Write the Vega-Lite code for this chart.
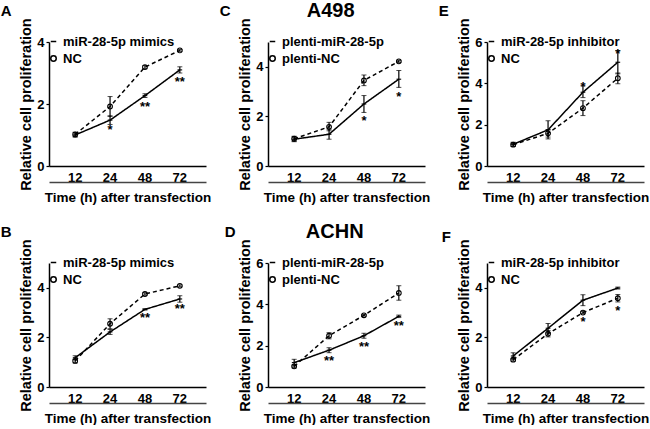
{
  "$schema": "https://vega.github.io/schema/vega-lite/v6.json",
  "padding": 0,
  "background": "white",
  "datasets": {
    "A": [
      {"time": "12", "group": "miR-28-5p mimics", "mean": 1.00, "lo": 0.93, "hi": 1.07},
      {"time": "24", "group": "miR-28-5p mimics", "mean": 1.48, "lo": 1.34, "hi": 1.62},
      {"time": "48", "group": "miR-28-5p mimics", "mean": 2.27, "lo": 2.21, "hi": 2.33},
      {"time": "72", "group": "miR-28-5p mimics", "mean": 3.10, "lo": 3.00, "hi": 3.20},
      {"time": "12", "group": "NC", "mean": 1.02, "lo": 0.95, "hi": 1.09},
      {"time": "24", "group": "NC", "mean": 1.92, "lo": 1.60, "hi": 2.24},
      {"time": "48", "group": "NC", "mean": 3.19, "lo": 3.14, "hi": 3.24},
      {"time": "72", "group": "NC", "mean": 3.73, "lo": 3.70, "hi": 3.76}
    ],
    "Asig": [
      {"time": "24", "label": "*", "y": 1.26},
      {"time": "48", "label": "**", "y": 2.03},
      {"time": "72", "label": "**", "y": 2.83}
    ],
    "B": [
      {"time": "12", "group": "miR-28-5p mimics", "mean": 1.18, "lo": 1.10, "hi": 1.26},
      {"time": "24", "group": "miR-28-5p mimics", "mean": 2.22, "lo": 2.12, "hi": 2.32},
      {"time": "48", "group": "miR-28-5p mimics", "mean": 3.13, "lo": 3.10, "hi": 3.16},
      {"time": "72", "group": "miR-28-5p mimics", "mean": 3.55, "lo": 3.42, "hi": 3.68},
      {"time": "12", "group": "NC", "mean": 1.05, "lo": 0.97, "hi": 1.13},
      {"time": "24", "group": "NC", "mean": 2.55, "lo": 2.35, "hi": 2.75},
      {"time": "48", "group": "NC", "mean": 3.75, "lo": 3.70, "hi": 3.80},
      {"time": "72", "group": "NC", "mean": 4.08, "lo": 4.04, "hi": 4.12}
    ],
    "Bsig": [
      {"time": "48", "label": "**", "y": 2.93},
      {"time": "72", "label": "**", "y": 3.28}
    ],
    "C": [
      {"time": "12", "group": "plenti-miR-28-5p", "mean": 1.08, "lo": 0.98, "hi": 1.18},
      {"time": "24", "group": "plenti-miR-28-5p", "mean": 1.28, "lo": 1.08, "hi": 1.48},
      {"time": "48", "group": "plenti-miR-28-5p", "mean": 2.50, "lo": 2.16, "hi": 2.84},
      {"time": "72", "group": "plenti-miR-28-5p", "mean": 3.50, "lo": 3.17, "hi": 3.85},
      {"time": "12", "group": "plenti-NC", "mean": 1.10, "lo": 1.00, "hi": 1.20},
      {"time": "24", "group": "plenti-NC", "mean": 1.58, "lo": 1.42, "hi": 1.76},
      {"time": "48", "group": "plenti-NC", "mean": 3.45, "lo": 3.24, "hi": 3.67},
      {"time": "72", "group": "plenti-NC", "mean": 4.22, "lo": 4.18, "hi": 4.26}
    ],
    "Csig": [
      {"time": "48", "label": "*", "y": 1.96},
      {"time": "72", "label": "*", "y": 2.93}
    ],
    "D": [
      {"time": "12", "group": "plenti-miR-28-5p", "mean": 1.18, "lo": 1.02, "hi": 1.34},
      {"time": "24", "group": "plenti-miR-28-5p", "mean": 1.78, "lo": 1.66, "hi": 1.90},
      {"time": "48", "group": "plenti-miR-28-5p", "mean": 2.48, "lo": 2.36, "hi": 2.60},
      {"time": "72", "group": "plenti-miR-28-5p", "mean": 3.42, "lo": 3.36, "hi": 3.48},
      {"time": "12", "group": "plenti-NC", "mean": 1.00, "lo": 0.92, "hi": 1.08},
      {"time": "24", "group": "plenti-NC", "mean": 2.48, "lo": 2.33, "hi": 2.63},
      {"time": "48", "group": "plenti-NC", "mean": 3.47, "lo": 3.43, "hi": 3.51},
      {"time": "72", "group": "plenti-NC", "mean": 4.55, "lo": 4.20, "hi": 4.90}
    ],
    "Dsig": [
      {"time": "24", "label": "**", "y": 1.41},
      {"time": "48", "label": "**", "y": 2.10},
      {"time": "72", "label": "**", "y": 3.11}
    ],
    "E": [
      {"time": "12", "group": "miR-28-5p inhibitor", "mean": 1.05, "lo": 0.95, "hi": 1.15},
      {"time": "24", "group": "miR-28-5p inhibitor", "mean": 1.75, "lo": 1.31, "hi": 2.19},
      {"time": "48", "group": "miR-28-5p inhibitor", "mean": 3.57, "lo": 3.31, "hi": 3.88},
      {"time": "72", "group": "miR-28-5p inhibitor", "mean": 5.02, "lo": 4.46, "hi": 5.59},
      {"time": "12", "group": "NC", "mean": 1.03, "lo": 0.95, "hi": 1.11},
      {"time": "24", "group": "NC", "mean": 1.58, "lo": 1.40, "hi": 1.76},
      {"time": "48", "group": "NC", "mean": 2.80, "lo": 2.44, "hi": 3.16},
      {"time": "72", "group": "NC", "mean": 4.25, "lo": 3.98, "hi": 4.50}
    ],
    "Esig": [
      {"time": "48", "label": "*", "y": 4.0},
      {"time": "72", "label": "*", "y": 5.59}
    ],
    "F": [
      {"time": "12", "group": "miR-28-5p inhibitor", "mean": 1.25, "lo": 1.12, "hi": 1.38},
      {"time": "24", "group": "miR-28-5p inhibitor", "mean": 2.37, "lo": 2.18, "hi": 2.56},
      {"time": "48", "group": "miR-28-5p inhibitor", "mean": 3.50, "lo": 3.28, "hi": 3.72},
      {"time": "72", "group": "miR-28-5p inhibitor", "mean": 3.99, "lo": 3.95, "hi": 4.03},
      {"time": "12", "group": "NC", "mean": 1.10, "lo": 1.04, "hi": 1.16},
      {"time": "24", "group": "NC", "mean": 2.15, "lo": 2.02, "hi": 2.28},
      {"time": "48", "group": "NC", "mean": 3.00, "lo": 2.96, "hi": 3.04},
      {"time": "72", "group": "NC", "mean": 3.58, "lo": 3.43, "hi": 3.73}
    ],
    "Fsig": [
      {"time": "48", "label": "*", "y": 2.77},
      {"time": "72", "label": "*", "y": 3.20}
    ]
  },
  "spacing": 17,
  "resolve": {"scale": {"shape": "independent"}, "legend": {"shape": "independent"}},
  "vconcat": [
    {
      "title": {"text": "A498", "fontSize": 20, "anchor": "middle", "offset": -17, "dx": 6},
      "spacing": 62,
      "bounds": "flush",
      "resolve": {"scale": {"shape": "independent"}, "legend": {"shape": "independent"}},
      "hconcat": [
        {
          "width": 157, "height": 124,
          "title": {"text": "A", "anchor": "start", "frame": "bounds", "fontSize": 15, "dx": -18, "offset": -1},
          "resolve": {"scale": {"x": "independent"}},
          "layer": [
            {
              "encoding": {"x": {"field": "time", "type": "ordinal", "scale": {"domain": ["12", "24", "48", "72"], "padding": 0.5}, "axis": {"title": null, "labelAngle": 0, "ticks": false, "labelPadding": 5}}},
              "layer": [
                {"data": {"name": "A"}, "mark": {"type": "errorbar", "ticks": {"size": 5, "color": "black", "strokeWidth": 1.2}, "rule": {"color": "black", "strokeWidth": 1.2}}, "encoding": {"y": {"field": "lo", "type": "quantitative", "title": "Relative cell proliferation", "scale": {"domain": [0, 4], "nice": false}, "axis": {"values": [0, 1, 2, 3, 4]}}, "y2": {"field": "hi"}}},
                {"data": {"name": "A"}, "mark": {"type": "line", "color": "black", "strokeWidth": 1.5}, "encoding": {"y": {"field": "mean", "type": "quantitative", "title": "Relative cell proliferation"}, "detail": {"field": "group"}, "strokeDash": {"condition": {"test": "indexof(datum.group, 'NC') >= 0", "value": [4, 3]}, "value": [1, 0]}}},
                {"data": {"name": "A"}, "mark": {"type": "point", "filled": false, "color": "black", "size": 22, "strokeWidth": 1.1, "opacity": 1}, "encoding": {"y": {"field": "mean", "type": "quantitative", "title": "Relative cell proliferation"}, "shape": {"field": "group", "type": "nominal", "scale": {"domain": ["miR-28-5p mimics", "NC"], "range": ["stroke", "circle"]}, "legend": {"title": null, "orient": "none", "legendX": -2, "legendY": -7}}}},
                {"data": {"name": "Asig"}, "mark": {"type": "text", "fontSize": 13, "fontWeight": "bold", "baseline": "middle", "dy": 3.5}, "encoding": {"y": {"field": "y", "type": "quantitative", "title": "Relative cell proliferation"}, "text": {"field": "label"}}}
              ]
            },
            {"data": {"name": "A"}, "mark": {"type": "point", "opacity": 0}, "encoding": {"x": {"field": "time", "type": "ordinal", "scale": {"domain": ["12", "24", "48", "72"]}, "axis": {"orient": "bottom", "title": "Time (h) after transfection", "labels": false, "ticks": false, "offset": 16, "titlePadding": 8, "domainColor": "#444"}}}}
          ]
        },
        {
          "width": 157, "height": 124,
          "title": {"text": "C", "anchor": "start", "frame": "bounds", "fontSize": 15, "dx": -18, "offset": -1},
          "resolve": {"scale": {"x": "independent"}},
          "layer": [
            {
              "encoding": {"x": {"field": "time", "type": "ordinal", "scale": {"domain": ["12", "24", "48", "72"], "padding": 0.5}, "axis": {"title": null, "labelAngle": 0, "ticks": false, "labelPadding": 5}}},
              "layer": [
                {"data": {"name": "C"}, "mark": {"type": "errorbar", "ticks": {"size": 5, "color": "black", "strokeWidth": 1.2}, "rule": {"color": "black", "strokeWidth": 1.2}}, "encoding": {"y": {"field": "lo", "type": "quantitative", "title": "Relative cell proliferation", "scale": {"domain": [0, 5], "nice": false}, "axis": {"values": [0, 1, 2, 3, 4, 5]}}, "y2": {"field": "hi"}}},
                {"data": {"name": "C"}, "mark": {"type": "line", "color": "black", "strokeWidth": 1.5}, "encoding": {"y": {"field": "mean", "type": "quantitative", "title": "Relative cell proliferation"}, "detail": {"field": "group"}, "strokeDash": {"condition": {"test": "indexof(datum.group, 'NC') >= 0", "value": [4, 3]}, "value": [1, 0]}}},
                {"data": {"name": "C"}, "mark": {"type": "point", "filled": false, "color": "black", "size": 22, "strokeWidth": 1.1, "opacity": 1}, "encoding": {"y": {"field": "mean", "type": "quantitative", "title": "Relative cell proliferation"}, "shape": {"field": "group", "type": "nominal", "scale": {"domain": ["plenti-miR-28-5p", "plenti-NC"], "range": ["stroke", "circle"]}, "legend": {"title": null, "orient": "none", "legendX": -2, "legendY": -7}}}},
                {"data": {"name": "Csig"}, "mark": {"type": "text", "fontSize": 13, "fontWeight": "bold", "baseline": "middle", "dy": 3.5}, "encoding": {"y": {"field": "y", "type": "quantitative", "title": "Relative cell proliferation"}, "text": {"field": "label"}}}
              ]
            },
            {"data": {"name": "C"}, "mark": {"type": "point", "opacity": 0}, "encoding": {"x": {"field": "time", "type": "ordinal", "scale": {"domain": ["12", "24", "48", "72"]}, "axis": {"orient": "bottom", "title": "Time (h) after transfection", "labels": false, "ticks": false, "offset": 16, "titlePadding": 8, "domainColor": "#444"}}}}
          ]
        },
        {
          "width": 157, "height": 124,
          "title": {"text": "E", "anchor": "start", "frame": "bounds", "fontSize": 15, "dx": -18, "offset": -1},
          "resolve": {"scale": {"x": "independent"}},
          "layer": [
            {
              "encoding": {"x": {"field": "time", "type": "ordinal", "scale": {"domain": ["12", "24", "48", "72"], "padding": 0.5}, "axis": {"title": null, "labelAngle": 0, "ticks": false, "labelPadding": 5}}},
              "layer": [
                {"data": {"name": "E"}, "mark": {"type": "errorbar", "ticks": {"size": 5, "color": "black", "strokeWidth": 1.2}, "rule": {"color": "black", "strokeWidth": 1.2}}, "encoding": {"y": {"field": "lo", "type": "quantitative", "title": "Relative cell proliferation", "scale": {"domain": [0, 6], "nice": false}, "axis": {"values": [0, 2, 4, 6]}}, "y2": {"field": "hi"}}},
                {"data": {"name": "E"}, "mark": {"type": "line", "color": "black", "strokeWidth": 1.5}, "encoding": {"y": {"field": "mean", "type": "quantitative", "title": "Relative cell proliferation"}, "detail": {"field": "group"}, "strokeDash": {"condition": {"test": "indexof(datum.group, 'NC') >= 0", "value": [4, 3]}, "value": [1, 0]}}},
                {"data": {"name": "E"}, "mark": {"type": "point", "filled": false, "color": "black", "size": 22, "strokeWidth": 1.1, "opacity": 1}, "encoding": {"y": {"field": "mean", "type": "quantitative", "title": "Relative cell proliferation"}, "shape": {"field": "group", "type": "nominal", "scale": {"domain": ["miR-28-5p inhibitor", "NC"], "range": ["stroke", "circle"]}, "legend": {"title": null, "orient": "none", "legendX": -2, "legendY": -7}}}},
                {"data": {"name": "Esig"}, "mark": {"type": "text", "fontSize": 13, "fontWeight": "bold", "baseline": "middle", "dy": 3.5}, "encoding": {"y": {"field": "y", "type": "quantitative", "title": "Relative cell proliferation"}, "text": {"field": "label"}}}
              ]
            },
            {"data": {"name": "E"}, "mark": {"type": "point", "opacity": 0}, "encoding": {"x": {"field": "time", "type": "ordinal", "scale": {"domain": ["12", "24", "48", "72"]}, "axis": {"orient": "bottom", "title": "Time (h) after transfection", "labels": false, "ticks": false, "offset": 16, "titlePadding": 8, "domainColor": "#444"}}}}
          ]
        }
      ]
    },
    {
      "title": {"text": "ACHN", "fontSize": 20, "anchor": "middle", "offset": -17, "dx": 10},
      "spacing": 62,
      "bounds": "flush",
      "resolve": {"scale": {"shape": "independent"}, "legend": {"shape": "independent"}},
      "hconcat": [
        {
          "width": 157, "height": 124,
          "title": {"text": "B", "anchor": "start", "frame": "bounds", "fontSize": 15, "dx": -18, "offset": -1},
          "resolve": {"scale": {"x": "independent"}},
          "layer": [
            {
              "encoding": {"x": {"field": "time", "type": "ordinal", "scale": {"domain": ["12", "24", "48", "72"], "padding": 0.5}, "axis": {"title": null, "labelAngle": 0, "ticks": false, "labelPadding": 5}}},
              "layer": [
                {"data": {"name": "B"}, "mark": {"type": "errorbar", "ticks": {"size": 5, "color": "black", "strokeWidth": 1.2}, "rule": {"color": "black", "strokeWidth": 1.2}}, "encoding": {"y": {"field": "lo", "type": "quantitative", "title": "Relative cell proliferation", "scale": {"domain": [0, 5], "nice": false}, "axis": {"values": [0, 1, 2, 3, 4, 5]}}, "y2": {"field": "hi"}}},
                {"data": {"name": "B"}, "mark": {"type": "line", "color": "black", "strokeWidth": 1.5}, "encoding": {"y": {"field": "mean", "type": "quantitative", "title": "Relative cell proliferation"}, "detail": {"field": "group"}, "strokeDash": {"condition": {"test": "indexof(datum.group, 'NC') >= 0", "value": [4, 3]}, "value": [1, 0]}}},
                {"data": {"name": "B"}, "mark": {"type": "point", "filled": false, "color": "black", "size": 22, "strokeWidth": 1.1, "opacity": 1}, "encoding": {"y": {"field": "mean", "type": "quantitative", "title": "Relative cell proliferation"}, "shape": {"field": "group", "type": "nominal", "scale": {"domain": ["miR-28-5p mimics", "NC"], "range": ["stroke", "circle"]}, "legend": {"title": null, "orient": "none", "legendX": -2, "legendY": -7}}}},
                {"data": {"name": "Bsig"}, "mark": {"type": "text", "fontSize": 13, "fontWeight": "bold", "baseline": "middle", "dy": 3.5}, "encoding": {"y": {"field": "y", "type": "quantitative", "title": "Relative cell proliferation"}, "text": {"field": "label"}}}
              ]
            },
            {"data": {"name": "B"}, "mark": {"type": "point", "opacity": 0}, "encoding": {"x": {"field": "time", "type": "ordinal", "scale": {"domain": ["12", "24", "48", "72"]}, "axis": {"orient": "bottom", "title": "Time (h) after transfection", "labels": false, "ticks": false, "offset": 16, "titlePadding": 8, "domainColor": "#444"}}}}
          ]
        },
        {
          "width": 157, "height": 124,
          "title": {"text": "D", "anchor": "start", "frame": "bounds", "fontSize": 15, "dx": -13, "offset": -1},
          "resolve": {"scale": {"x": "independent"}},
          "layer": [
            {
              "encoding": {"x": {"field": "time", "type": "ordinal", "scale": {"domain": ["12", "24", "48", "72"], "padding": 0.5}, "axis": {"title": null, "labelAngle": 0, "ticks": false, "labelPadding": 5}}},
              "layer": [
                {"data": {"name": "D"}, "mark": {"type": "errorbar", "ticks": {"size": 5, "color": "black", "strokeWidth": 1.2}, "rule": {"color": "black", "strokeWidth": 1.2}}, "encoding": {"y": {"field": "lo", "type": "quantitative", "title": "Relative cell proliferation", "scale": {"domain": [0, 6], "nice": false}, "axis": {"values": [0, 2, 4, 6]}}, "y2": {"field": "hi"}}},
                {"data": {"name": "D"}, "mark": {"type": "line", "color": "black", "strokeWidth": 1.5}, "encoding": {"y": {"field": "mean", "type": "quantitative", "title": "Relative cell proliferation"}, "detail": {"field": "group"}, "strokeDash": {"condition": {"test": "indexof(datum.group, 'NC') >= 0", "value": [4, 3]}, "value": [1, 0]}}},
                {"data": {"name": "D"}, "mark": {"type": "point", "filled": false, "color": "black", "size": 22, "strokeWidth": 1.1, "opacity": 1}, "encoding": {"y": {"field": "mean", "type": "quantitative", "title": "Relative cell proliferation"}, "shape": {"field": "group", "type": "nominal", "scale": {"domain": ["plenti-miR-28-5p", "plenti-NC"], "range": ["stroke", "circle"]}, "legend": {"title": null, "orient": "none", "legendX": -2, "legendY": -7}}}},
                {"data": {"name": "Dsig"}, "mark": {"type": "text", "fontSize": 13, "fontWeight": "bold", "baseline": "middle", "dy": 3.5}, "encoding": {"y": {"field": "y", "type": "quantitative", "title": "Relative cell proliferation"}, "text": {"field": "label"}}}
              ]
            },
            {"data": {"name": "D"}, "mark": {"type": "point", "opacity": 0}, "encoding": {"x": {"field": "time", "type": "ordinal", "scale": {"domain": ["12", "24", "48", "72"]}, "axis": {"orient": "bottom", "title": "Time (h) after transfection", "labels": false, "ticks": false, "offset": 16, "titlePadding": 8, "domainColor": "#444"}}}}
          ]
        },
        {
          "width": 157, "height": 124,
          "title": {"text": "F", "anchor": "start", "frame": "bounds", "fontSize": 15, "dx": -15, "dy": 5, "offset": -1},
          "resolve": {"scale": {"x": "independent"}},
          "layer": [
            {
              "encoding": {"x": {"field": "time", "type": "ordinal", "scale": {"domain": ["12", "24", "48", "72"], "padding": 0.5}, "axis": {"title": null, "labelAngle": 0, "ticks": false, "labelPadding": 5}}},
              "layer": [
                {"data": {"name": "F"}, "mark": {"type": "errorbar", "ticks": {"size": 5, "color": "black", "strokeWidth": 1.2}, "rule": {"color": "black", "strokeWidth": 1.2}}, "encoding": {"y": {"field": "lo", "type": "quantitative", "title": "Relative cell proliferation", "scale": {"domain": [0, 5], "nice": false}, "axis": {"values": [0, 1, 2, 3, 4, 5]}}, "y2": {"field": "hi"}}},
                {"data": {"name": "F"}, "mark": {"type": "line", "color": "black", "strokeWidth": 1.5}, "encoding": {"y": {"field": "mean", "type": "quantitative", "title": "Relative cell proliferation"}, "detail": {"field": "group"}, "strokeDash": {"condition": {"test": "indexof(datum.group, 'NC') >= 0", "value": [4, 3]}, "value": [1, 0]}}},
                {"data": {"name": "F"}, "mark": {"type": "point", "filled": false, "color": "black", "size": 22, "strokeWidth": 1.1, "opacity": 1}, "encoding": {"y": {"field": "mean", "type": "quantitative", "title": "Relative cell proliferation"}, "shape": {"field": "group", "type": "nominal", "scale": {"domain": ["miR-28-5p inhibitor", "NC"], "range": ["stroke", "circle"]}, "legend": {"title": null, "orient": "none", "legendX": -2, "legendY": -7}}}},
                {"data": {"name": "Fsig"}, "mark": {"type": "text", "fontSize": 13, "fontWeight": "bold", "baseline": "middle", "dy": 3.5}, "encoding": {"y": {"field": "y", "type": "quantitative", "title": "Relative cell proliferation"}, "text": {"field": "label"}}}
              ]
            },
            {"data": {"name": "F"}, "mark": {"type": "point", "opacity": 0}, "encoding": {"x": {"field": "time", "type": "ordinal", "scale": {"domain": ["12", "24", "48", "72"]}, "axis": {"orient": "bottom", "title": "Time (h) after transfection", "labels": false, "ticks": false, "offset": 16, "titlePadding": 8, "domainColor": "#444"}}}}
          ]
        }
      ]
    }
  ],
  "config": {
    "font": "Liberation Sans",
    "view": {"stroke": null},
    "axis": {"labelFont": "Liberation Sans", "labelFontWeight": "bold", "labelFontSize": 13, "labelColor": "black", "titleFont": "Liberation Sans", "titleFontWeight": "bold", "titleFontSize": 13.5, "titleColor": "black", "domainColor": "black", "domainWidth": 1.5, "tickColor": "black", "tickWidth": 1.2, "grid": false},
    "axisY": {"tickSize": 3, "labelPadding": 2, "titlePadding": 3, "titleFontSize": 14.5},
    "legend": {"labelFont": "Liberation Sans", "labelFontSize": 13, "labelFontWeight": "bold", "labelColor": "black", "symbolStrokeColor": "black", "symbolStrokeWidth": 1.5, "symbolSize": 30, "rowPadding": 3, "labelOffset": 3, "padding": 0},
    "title": {"font": "Liberation Sans", "fontWeight": "bold", "color": "black"}
  }
}
